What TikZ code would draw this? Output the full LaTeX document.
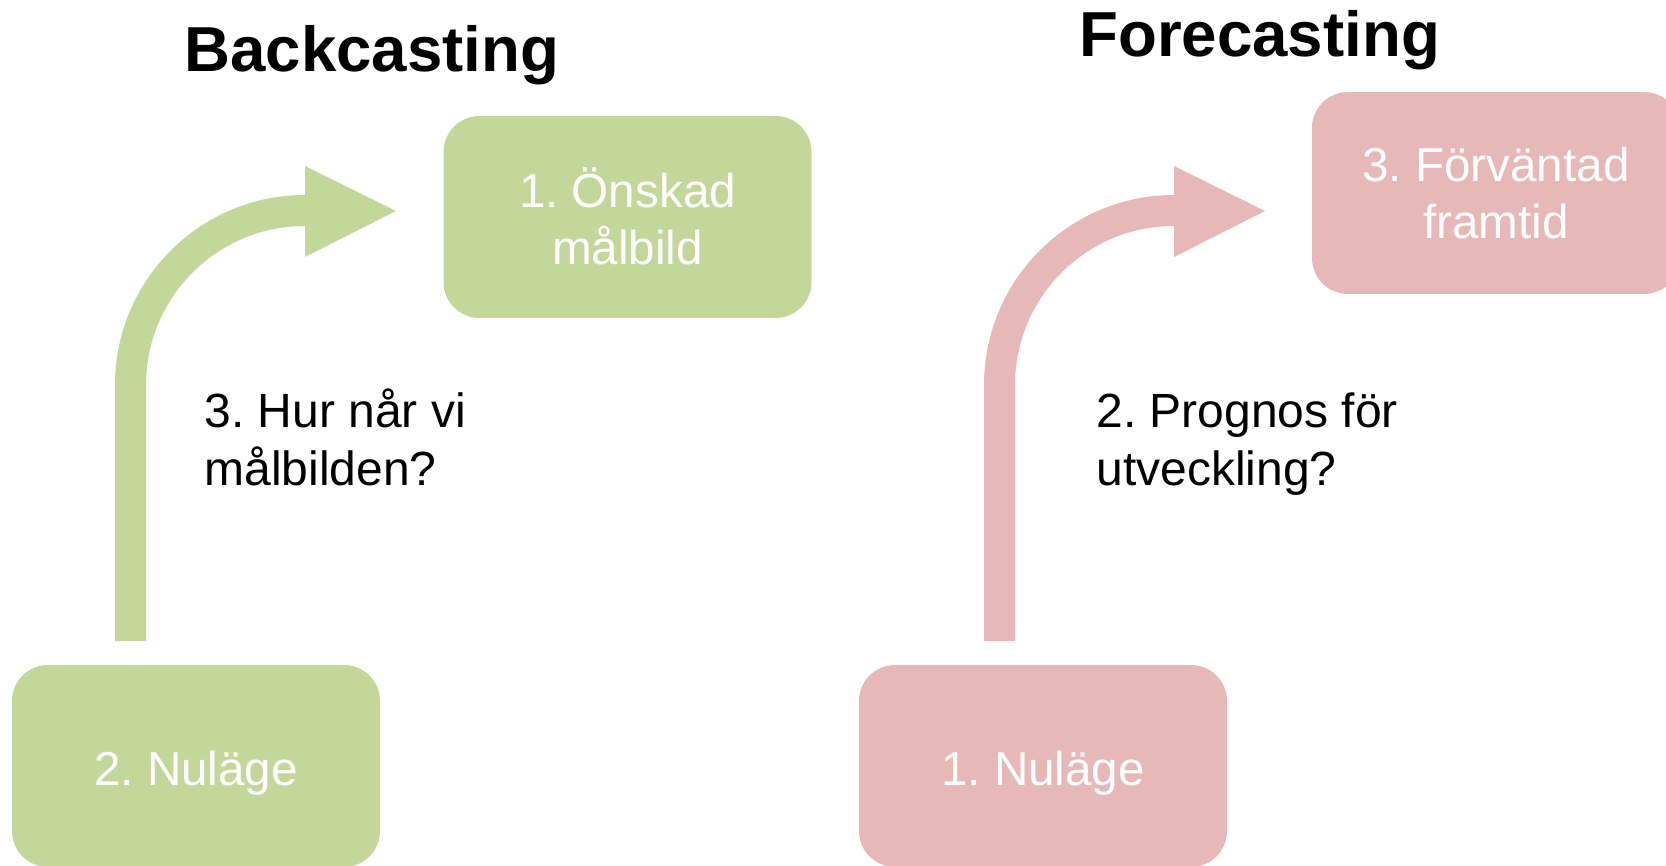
\documentclass[tikz,border=0pt]{standalone}
\usepackage{fontspec}
\setmainfont{Liberation Sans}
\frenchspacing
\definecolor{backgreen}{RGB}{196,215,155}
\definecolor{forepink}{RGB}{230,184,183}
\begin{document}
\begin{tikzpicture}[x=0.5pt,y=-0.5pt,
  stagebox/.style={rounded corners=18pt, inner sep=0pt, minimum width=184pt, minimum height=101pt},
  boxtext/.style={text=white, inner sep=0pt, align=center, anchor=base,
    font=\fontsize{23.8}{28.75}\selectfont},
  steptext/.style={text=black, inner sep=0pt, align=left, anchor=base west,
    font=\fontsize{24}{28.5}\selectfont},
  heading/.style={inner sep=0pt, anchor=base west, font=\fontsize{31.8}{36}\selectfont\bfseries},
  pics/bentarrow/.style={code={
    \fill[#1] (115,641) -- (115,385) arc[start angle=180, end angle=270, radius=190]
      -- (305,166) -- (396,211) -- (305,257) -- (305,226)
      arc[start angle=270, end angle=180, radius=159] -- (146,641) -- cycle;
  }}]
\useasboundingbox (0,0) rectangle (1666,866);
\clip (0,0) rectangle (1666,866);

% Backcasting side (multi-line nodes are anchored on their last baseline)
\node[heading] (bhead) at (184,72) {Backcasting};
\node[stagebox, fill=backgreen] (bgoal) at (627.5,217) {};
\node[stagebox, fill=backgreen] (bnow) at (196,766) {};
\pic {bentarrow=backgreen};
\node[boxtext] (bgoaltext) at (bgoal.center |- 0,265) {1. Önskad\\målbild};
\node[boxtext] (bnowtext) at (bnow.center |- 0,785) {2. Nuläge};
\node[steptext] (bstep) at (204,485) {3. Hur når vi\\målbilden?};

% Forecasting side
\node[heading] (fhead) at (1079,57) {Forecasting};
\node[stagebox, fill=forepink] (fgoal) at (1496,193) {};
\node[stagebox, fill=forepink] (fnow) at (1043,766) {};
\pic[xshift=434.5pt] {bentarrow=forepink};
\node[boxtext] (fgoaltext) at (fgoal.center |- 0,239) {3. Förväntad\\framtid};
\node[boxtext] (fnowtext) at (fnow.center |- 0,785) {1. Nuläge};
\node[steptext] (fstep) at (1096,485) {2. Prognos för\\utveckling?};
\end{tikzpicture}
\end{document}
